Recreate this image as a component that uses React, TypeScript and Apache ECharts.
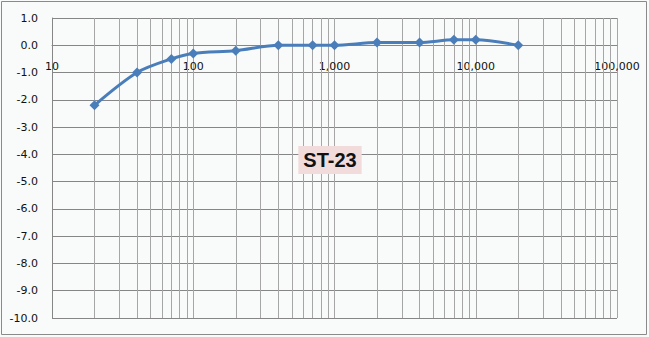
import React, { useEffect, useRef } from "react";
import * as echarts from "echarts";

const frequencies = [20, 40, 70, 100, 200, 400, 700, 1000, 2000, 4000, 7000, 10000, 20000];
const responses = [-2.2, -1.0, -0.5, -0.3, -0.2, 0, 0, 0, 0.1, 0.1, 0.2, 0.2, 0];
const minorGridValues = [
  20, 30, 40, 50, 60, 70, 80, 90,
  200, 300, 400, 500, 600, 700, 800, 900,
  2000, 3000, 4000, 5000, 6000, 7000, 8000, 9000,
  20000, 30000, 40000, 50000, 60000, 70000, 80000, 90000,
];
const yMin = -10;
const yMax = 1;
const chartTitle = "ST-23";

const W = 649;
const H = 337;
const gridTop = 18;
const gridBottom = 19;

export default function App() {
  const ref = useRef<HTMLDivElement>(null);
  useEffect(() => {
    if (!ref.current) return;
    const chart = echarts.init(ref.current, null, { renderer: "svg" });
    const font = "DejaVu Sans";
    const plotH = H - gridTop - gridBottom;
    // distance from the bottom of the plot to the y = 0 line
    const zeroOffset = (plotH * (0 - yMin)) / (yMax - yMin);
    chart.setOption({
      animation: false,
      backgroundColor: "#f8fbf9",
      textStyle: { fontFamily: font },
      graphic: [
        {
          type: "rect",
          shape: { x: 1.5, y: 1.5, width: 645, height: 333 },
          style: { fill: "none", stroke: "#8a8a8a", lineWidth: 1 },
          silent: true,
        },
        {
          type: "text",
          x: 330,
          y: 160,
          z: 100,
          style: {
            text: chartTitle,
            font: "bold 20px 'Liberation Sans', Arial, sans-serif",
            fill: "#111",
            align: "center",
            verticalAlign: "middle",
            backgroundColor: "#f2dcdb",
            padding: [4, 5, 4, 5],
          },
        },
      ],
      grid: { left: 52, right: 32, top: gridTop, bottom: gridBottom, containLabel: false },
      xAxis: {
        type: "log",
        logBase: 10,
        min: 10,
        max: 100000,
        position: "bottom",
        offset: -zeroOffset,
        axisLine: { onZero: false, lineStyle: { color: "#868686", width: 1 } },
        axisTick: { show: false },
        axisLabel: {
          color: "#111",
          fontSize: 11,
          fontFamily: font,
          margin: 16,
          formatter: (v: number) => Math.round(v).toLocaleString("en-US"),
        },
        splitLine: { show: true, lineStyle: { color: "#a6a6a6", width: 1 } },
      },
      yAxis: {
        type: "value",
        min: yMin,
        max: yMax,
        interval: 1,
        axisLine: { show: true, onZero: false, lineStyle: { color: "#868686", width: 1 } },
        axisTick: { show: false },
        axisLabel: {
          color: "#111",
          fontSize: 11,
          fontFamily: font,
          margin: 14,
          formatter: (v: number) => v.toFixed(1),
        },
        splitLine: { show: true, lineStyle: { color: "#868686", width: 1 } },
      },
      series: [
        {
          type: "line",
          data: frequencies.map((f, i) => [f, responses[i]]),
          smooth: 0.3,
          symbol: "diamond",
          symbolSize: 10,
          lineStyle: { color: "#4a7ebb", width: 3 },
          itemStyle: { color: "#4a7ebb" },
          z: 10,
          markLine: {
            silent: true,
            symbol: "none",
            label: { show: false },
            lineStyle: { color: "#a6a6a6", width: 1, type: "solid" },
            data: minorGridValues.map((v) => ({ xAxis: v })),
            z: 1,
          },
        },
      ],
    });
    return () => chart.dispose();
  }, []);
  return (
    <div
      ref={ref}
      style={{ position: "fixed", left: 0, top: 0, width: W, height: H }}
    />
  );
}
